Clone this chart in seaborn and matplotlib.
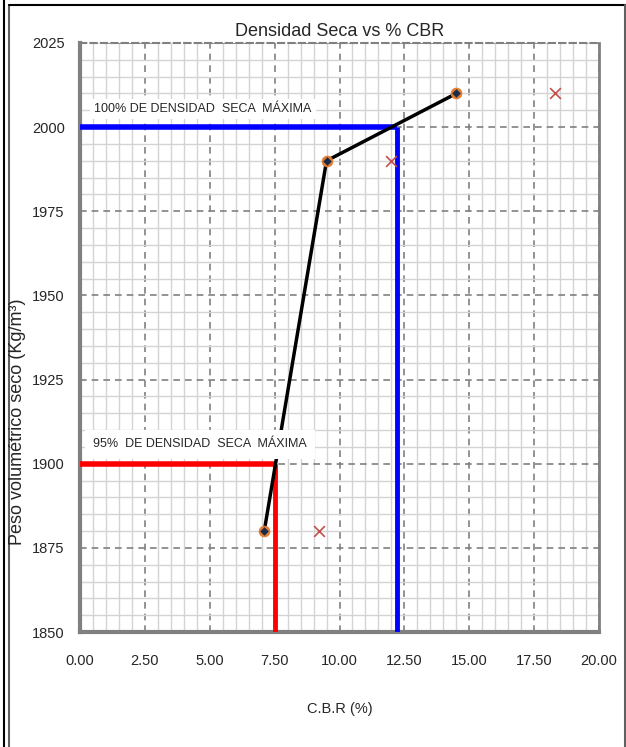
import matplotlib
matplotlib.use("Agg")
import matplotlib.pyplot as plt
import seaborn as sns
import pandas as pd
from matplotlib.lines import Line2D
from matplotlib.ticker import MultipleLocator

# ---- data ----
cbr = [7.1, 9.5, 14.5]
density = [1880, 1990, 2010]
cbr_x = [9.2, 12.0, 18.3]
density_x = [1880, 1990, 2010]
max_density = 2000
cbr_100 = 12.2
dens_95 = 1900
cbr_95 = 7.5
x_ticks = [0, 2.5, 5, 7.5, 10, 12.5, 15, 17.5, 20]
y_ticks = [1850, 1875, 1900, 1925, 1950, 1975, 2000, 2025]
title = "Densidad Seca vs % CBR"
xlabel = "C.B.R (%)"
ylabel = "Peso volumétrico seco (Kg/m³)"
label_100 = "100% DE DENSIDAD  SECA  MÁXIMA"
label_95 = "95%  DE DENSIDAD  SECA  MÁXIMA"

sns.set_style("white")
plt.rcParams['font.family'] = ['Liberation Sans Narrow', 'Liberation Sans', 'DejaVu Sans']

fig = plt.figure(figsize=(6.26, 7.47), dpi=100)
ax = fig.add_axes([80/626, 1-632/747, (599-80)/626, (632-43)/747])

df = pd.DataFrame({"cbr": cbr, "dens": density})
dfx = pd.DataFrame({"cbr": cbr_x, "dens": density_x})

ax.set_xlim(0, 20)
ax.set_ylim(1850, 2025)
ax.xaxis.set_major_locator(MultipleLocator(2.5))
ax.yaxis.set_major_locator(MultipleLocator(25))
ax.xaxis.set_minor_locator(MultipleLocator(0.5))
ax.yaxis.set_minor_locator(MultipleLocator(5))
ax.grid(which='minor', color='#d4d4d4', lw=1.0, zorder=0)
ax.grid(which='major', color='#808080', lw=1.2, ls=(0, (4, 3)), zorder=0.5)
ax.set_axisbelow(True)

# reference lines
ax.plot([0, cbr_100], [max_density, max_density], color='#0000ff', lw=4, zorder=3, solid_capstyle='butt')
ax.plot([cbr_100, cbr_100], [max_density, 1850], color='#0000ff', lw=3.5, zorder=3, solid_capstyle='butt')
ax.plot([0, cbr_95], [dens_95, dens_95], color='#ff0000', lw=4, zorder=3, solid_capstyle='butt')
ax.plot([cbr_95, cbr_95], [dens_95, 1850], color='#ff0000', lw=3.5, zorder=3, solid_capstyle='butt')

sns.lineplot(data=df, x="cbr", y="dens", ax=ax, color='black', lw=2.5, sort=False, zorder=4)
sns.scatterplot(data=df, x="cbr", y="dens", ax=ax, marker='o', s=60, color='#e07b30',
                edgecolor='#e07b30', zorder=5)
sns.scatterplot(data=df, x="cbr", y="dens", ax=ax, marker='D', s=16, color='#1a2a4a',
                edgecolor='#1a2a4a', zorder=6)
sns.scatterplot(data=dfx, x="cbr", y="dens", ax=ax, marker='x', s=60, color='#c0504d',
                linewidth=1.2, zorder=5)

ax.text(0.55, 2005.3, label_100, fontsize=9, va='center', ha='left', zorder=7,
        bbox=dict(facecolor='white', edgecolor='none', pad=3))
ax.text(0.5, 1905.8, label_95, fontsize=9, va='center', ha='left', zorder=7,
        bbox=dict(facecolor='white', edgecolor='none', pad=6))

ax.set_xticks(x_ticks)
ax.set_xticklabels([f"{v:.2f}" for v in x_ticks], fontsize=10.5)
ax.set_yticks(y_ticks)
ax.set_yticklabels([str(v) for v in y_ticks], fontsize=10.5)
ax.tick_params(axis='x', length=0, pad=16)
ax.tick_params(axis='y', length=0, pad=11)
ax.set_xlabel(xlabel, fontsize=10.5, labelpad=24)
ax.set_ylabel("")
fig.text(18/626, 1-422/747, ylabel, rotation=90, fontsize=13, ha='center', va='center')
ax.set_title(title, fontsize=13, pad=5)

for s in ['left', 'bottom']:
    ax.spines[s].set_color('#808080')
    ax.spines[s].set_linewidth(3)
ax.spines['right'].set_color('#808080')
ax.spines['right'].set_linewidth(2)
ax.spines['top'].set_color('#808080')
ax.spines['top'].set_linewidth(1.5)
ax.spines['top'].set_linestyle((0, (3, 2)))

# figure borders
fig.add_artist(Line2D([3.5/626, 3.5/626], [0, 1], color='black', lw=1.5, transform=fig.transFigure))
fig.add_artist(Line2D([8.5/626, 8.5/626], [0, 1-5/747], color='#606060', lw=1.5, transform=fig.transFigure))
fig.add_artist(Line2D([8.5/626, 1], [1-5/747, 1-5/747], color='black', lw=1.5, transform=fig.transFigure))
fig.add_artist(Line2D([624.5/626, 624.5/626], [0, 1-5/747], color='#606060', lw=1.5, transform=fig.transFigure))

fig.savefig("out.png", dpi=100)
